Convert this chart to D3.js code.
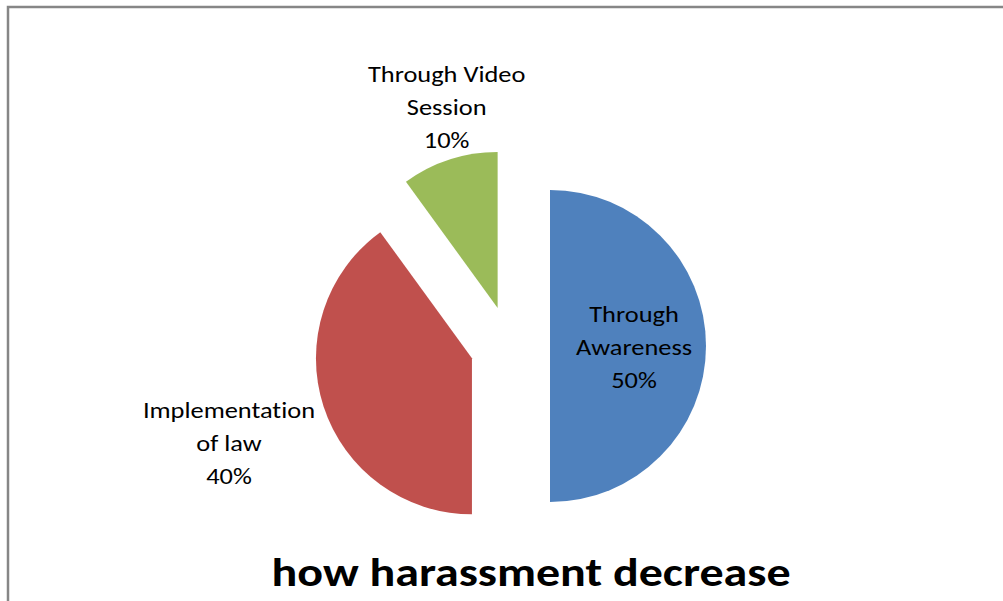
<!DOCTYPE html>
<html>
<head>
<meta charset="utf-8">
<script src="https://cdn.jsdelivr.net/npm/d3@7"></script>
<style>
  html, body { margin: 0; padding: 0; background: #fff; }
  svg { display: block; }
  text { font-variant-ligatures: none; font-feature-settings: "liga" 0, "clig" 0; }
</style>
</head>
<body>
<svg id="chart" width="1003" height="601"></svg>
<script>
// Survey answers: how harassment can be decreased
const categories = ["Through Awareness", "Implementation of law", "Through Video Session"];
const labelLines = [["Through", "Awareness"], ["Implementation", "of law"], ["Through Video", "Session"]];
const values = [50, 40, 10];
const colors = ["#4F81BD", "#C0504D", "#9BBB59"];
const title = "how harassment decrease";

const W = 1003, H = 601;
const cx = 510, cy = 346, R = 156, explode = 40;
// label anchor relative to each exploded slice's apex, in pixels
const labelOffset = [[84, 1], [-243, 85], [-51, -201]];
const fontStack = "Carlito, Calibri, Lato, 'Open Sans', sans-serif";
const stretchX = 1.2;

const svg = d3.select("#chart");

// chart area frame
svg.append("rect")
  .attr("x", 8).attr("y", 7)
  .attr("width", W + 20).attr("height", H + 20)
  .attr("fill", "#fff")
  .attr("stroke", "#868686")
  .attr("stroke-width", 2.5);

const total = d3.sum(values);
const pie = d3.pie().sort(null).value(d => d)(values);
const arc = d3.arc().innerRadius(0).outerRadius(R);

const g = svg.append("g").attr("transform", `translate(${cx},${cy})`);

const slices = g.selectAll("g.slice")
  .data(pie)
  .join("g")
  .attr("class", "slice")
  .attr("transform", d => {
    const a = (d.startAngle + d.endAngle) / 2;
    return `translate(${Math.sin(a) * explode},${-Math.cos(a) * explode})`;
  });

slices.append("path")
  .attr("d", arc)
  .attr("fill", (d, i) => colors[i]);

const lineH = 33;
slices.append("text")
  .attr("font-family", fontStack)
  .attr("font-size", 22)
  .attr("fill", "#000")
  .attr("text-anchor", "middle")
  .attr("transform", (d, i) =>
    `translate(${labelOffset[i][0]},${labelOffset[i][1]}) scale(${stretchX},1)`)
  .each(function(d, i) {
    const lines = labelLines[i].concat([d3.format(".0%")(d.value / total)]);
    const t = d3.select(this);
    lines.forEach((s, k) => {
      t.append("tspan")
        .attr("x", 0)
        .attr("y", (k - (lines.length - 1) / 2) * lineH)
        .attr("dy", "0.35em")
        .text(s);
    });
  });

svg.append("text")
  .attr("transform", `translate(531,572) scale(${stretchX},1)`)
  .attr("dy", "0.35em")
  .attr("text-anchor", "middle")
  .attr("font-family", fontStack)
  .attr("font-weight", "bold")
  .attr("font-size", 40)
  .attr("fill", "#000")
  .text(title);
</script>
</body>
</html>
